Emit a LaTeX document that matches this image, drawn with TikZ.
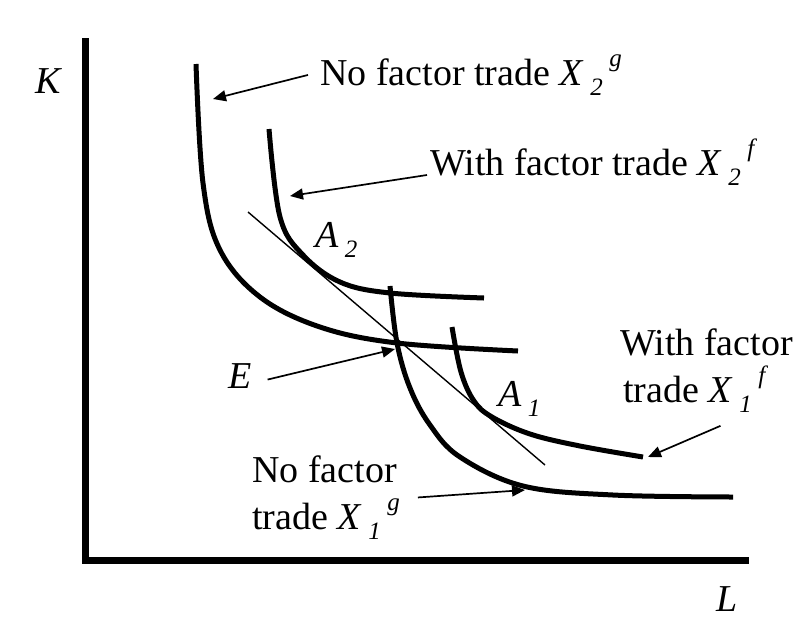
\documentclass[tikz,border=0pt]{standalone}
\usepackage{fontspec}
\setmainfont{Liberation Serif}
\usetikzlibrary{arrows.meta,positioning}
\newcommand{\subix}[1]{\,\raisebox{-0.28em}{\fontsize{25}{25}\selectfont\itshape #1}}
\newcommand{\supix}[1]{\,\raisebox{0.5em}{\fontsize{25}{25}\selectfont\itshape #1}}

\begin{document}
\begin{tikzpicture}[x=1pt,y=-1pt,
    font=\fontsize{38}{47}\selectfont,
    axisline/.style={line width=7pt,line join=miter},
    isoquant/.style={line width=5pt,tension=0.6},
    tangentline/.style={line width=1.4pt},
    pointer/.style={line width=1.7pt,-{Triangle[length=13pt,width=11pt]}},
    lbl/.style={anchor=base west,inner sep=0pt,align=left}]
  \useasboundingbox (0,0) rectangle (799,627);
  % axes
  \draw[axisline] (85.5,38) -- (85.5,560.5) -- (749,560.5);
  \node[lbl] (axK) at (35,93) {\textit{K}};
  \node[lbl] (axL) at (716,611) {\textit{L}};
  % isoquants
  \draw[isoquant] plot[smooth] coordinates {(196,64) (203,183) (220,250) (260,297) (320,327) (397,343) (518,351)};
  \draw[isoquant] plot[smooth] coordinates {(269,129) (280,217) (303,255) (340,282) (390,293) (484,298)};
  \draw[isoquant] plot[smooth] coordinates {(390,286) (397,343) (410,388) (430,425) (460,457) (523,486) (613,495) (733,497)};
  \draw[isoquant] plot[smooth] coordinates {(452,327) (461,372) (474,401) (492,417) (530,434) (580,446) (643,457)};
  \draw[tangentline] (248,212) -- (545,465);
  % arrow tips on the curves
  \coordinate (tipXtwog) at (213,99);
  \coordinate (tipXtwof) at (290,196);
  \coordinate (tipE) at (395,349);
  \coordinate (tipXonef) at (648,457);
  \coordinate (tipXoneg) at (525,490);
  % labels
  \node[lbl] (lblXtwog) at (320,85) {No factor trade \textit{X}\subix{2}\supix{g}};
  \node[lbl] (lblXtwof) at (430,175) {With factor trade \textit{X}\subix{2}\supix{f}};
  \node[lbl] (lblAtwo) at (315,247) {\textit{A}\subix{2}};
  \node[lbl] (lblE) at (228,388) {\textit{E}};
  \node[lbl] (lblAone) at (498,406) {\textit{A}\subix{1}};
  \node[lbl] (lblXonef) at (620,402) {With factor\\\hspace*{3pt}trade \textit{X}\subix{1}\supix{f}};
  \node[lbl] (lblXoneg) at (252,529) {No factor\\trade \textit{X}\subix{1}\supix{g}};
  % pointers
  \draw[pointer] ([xshift=-12pt]lblXtwog.west) -- (tipXtwog);
  \draw[pointer] ([xshift=-3pt]lblXtwof.base west) -- (tipXtwof);
  \draw[pointer] ([xshift=16pt,yshift=-4pt]lblE.east) -- (tipE);
  \draw[pointer] ([xshift=14pt,yshift=-13pt]lblXonef.south) -- (tipXonef);
  \draw[pointer] ([xshift=18pt]lblXoneg.east) -- (tipXoneg);
\end{tikzpicture}
\end{document}
